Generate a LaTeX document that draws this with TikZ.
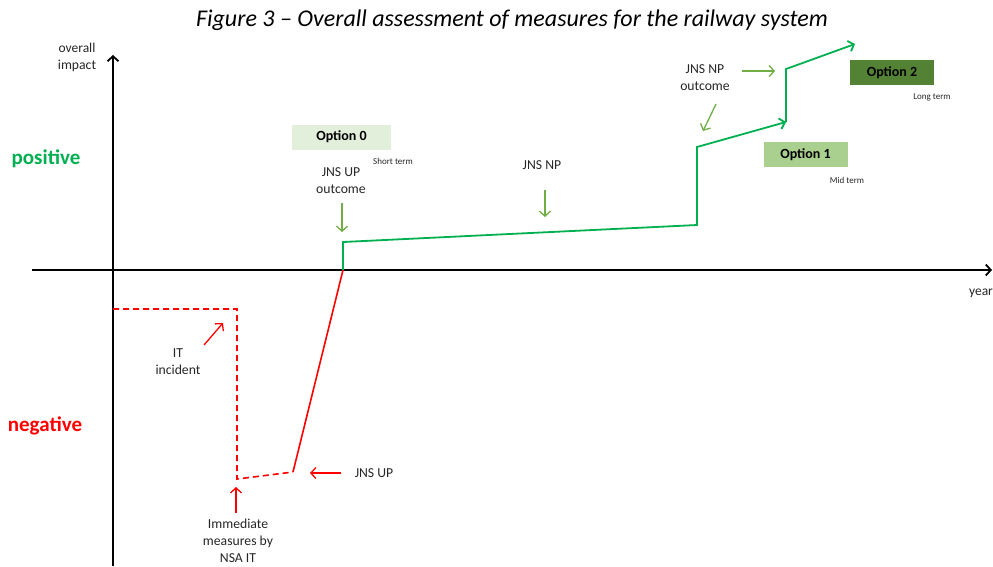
\documentclass[tikz,border=0pt]{standalone}
\usepackage{fontspec}
\setmainfont{Carlito}
\usetikzlibrary{arrows.meta}
\definecolor{curvegreen}{HTML}{00B050}
\definecolor{pointgreen}{HTML}{70AD47}
\definecolor{curvered}{HTML}{FF0000}
\definecolor{optzero}{HTML}{E2EFDA}
\definecolor{optone}{HTML}{A9D08E}
\definecolor{opttwo}{HTML}{548235}
\definecolor{labeltext}{HTML}{262626}

\begin{document}
\begin{tikzpicture}[x=1pt, y=-1pt,
  every node/.style={inner sep=0pt, outer sep=0pt, align=center, text=labeltext, font=\fontsize{13.7}{17}\selectfont},
  axisline/.style={line width=1.8pt, -{Straight Barb[length=5pt,width=11pt]}},
  pointer/.style={line width=1.3pt, -{Straight Barb[length=5pt,width=11pt]}},
  optbox/.style={minimum height=25pt, text=black, font=\fontsize{14}{16}\selectfont\bfseries},
  termlabel/.style={font=\fontsize{9}{10}\selectfont},
  sidelabel/.style={font=\fontsize{21}{24}\selectfont\bfseries}]
\useasboundingbox (0,0) rectangle (993,566);

\node[text=black] (title) at (512,20) {\fontsize{24}{28}\selectfont\itshape Figure 3 -- Overall assessment of measures for the railway system};

\coordinate (ybot) at (113,566);
\coordinate (ytop) at (113,55);
\coordinate (xleft) at (32,270);
\coordinate (xright) at (992,270);
\draw[axisline] (ybot) -- (ytop);
\draw[axisline] (xleft) -- (xright);
\node (impact) at (77,57) {\fontsize{13.5}{16}\selectfont overall\\impact};
\node (year) at (981,293) {\fontsize{13.5}{16}\selectfont year};
\node[sidelabel, text=curvegreen] (positive) at (46,159) {positive};
\node[sidelabel, text=curvered] (negative) at (45,426) {negative};

\coordinate (r1) at (113,309);
\coordinate (r2) at (237,309);
\coordinate (r3) at (237,479);
\coordinate (r4) at (293,472);
\coordinate (g0) at (343,270);
\coordinate (g1) at (343,242);
\coordinate (g2) at (697,225);
\coordinate (g3) at (697,147);
\coordinate (g4) at (786,122);
\coordinate (g5) at (786,69);
\coordinate (g6) at (855,44);
\draw[curvered, line width=1.6pt, dash pattern=on 6pt off 4pt] (r1) -- (r2) -- (r3) -- (r4);
\draw[curvered, line width=1.6pt] (r4) -- (g0);
\draw[curvegreen, line width=1.8pt, -{Straight Barb[length=5pt,width=11pt]}] (g0) -- (g1) -- (g2) -- (g3) -- (g4);
\draw[curvegreen, line width=1.8pt, -{Straight Barb[length=5pt,width=11pt]}] (g4) -- (g5) -- (g6);

\node[optbox, fill=optzero, minimum width=99pt] (option0) at (341.5,137) {Option 0};
\node[termlabel] (short) at (393,161) {Short term};
\node[optbox, fill=optone, minimum width=84pt] (option1) at (805.5,154.5) {Option 1};
\node[termlabel] (mid) at (847,180) {Mid term};
\node[optbox, fill=opttwo, minimum width=84pt] (option2) at (892,72.5) {Option 2};
\node[termlabel] (long) at (932,97) {Long term};

\node (upout) at (341,181) {JNS UP\\outcome};
\coordinate (upout1) at (342,203);
\coordinate (upout2) at (342,232);
\draw[pointer, pointgreen] (upout1) -- (upout2);
\node (np) at (542,165) {JNS NP};
\coordinate (np1) at (545,190);
\coordinate (np2) at (545,217);
\draw[pointer, pointgreen] (np1) -- (np2);
\node (npout) at (705,78) {JNS NP\\outcome};
\coordinate (npout1) at (716,104);
\coordinate (npout2) at (703,131);
\coordinate (npout3) at (742,71);
\coordinate (npout4) at (775,71);
\draw[pointer, pointgreen] (npout1) -- (npout2);
\draw[pointer, pointgreen] (npout3) -- (npout4);

\node (incident) at (178,362) {IT\\incident};
\coordinate (inc1) at (204,345);
\coordinate (inc2) at (223,323);
\draw[pointer, curvered] (inc1) -- (inc2);
\node (immediate) at (238,541) {Immediate\\measures by\\NSA IT};
\coordinate (imm1) at (236,513);
\coordinate (imm2) at (236,487);
\draw[pointer, curvered] (imm1) -- (imm2);
\node (up) at (374,473) {JNS UP};
\coordinate (up1) at (341,473);
\coordinate (up2) at (310,473);
\draw[pointer, curvered] (up1) -- (up2);
\end{tikzpicture}
\end{document}
